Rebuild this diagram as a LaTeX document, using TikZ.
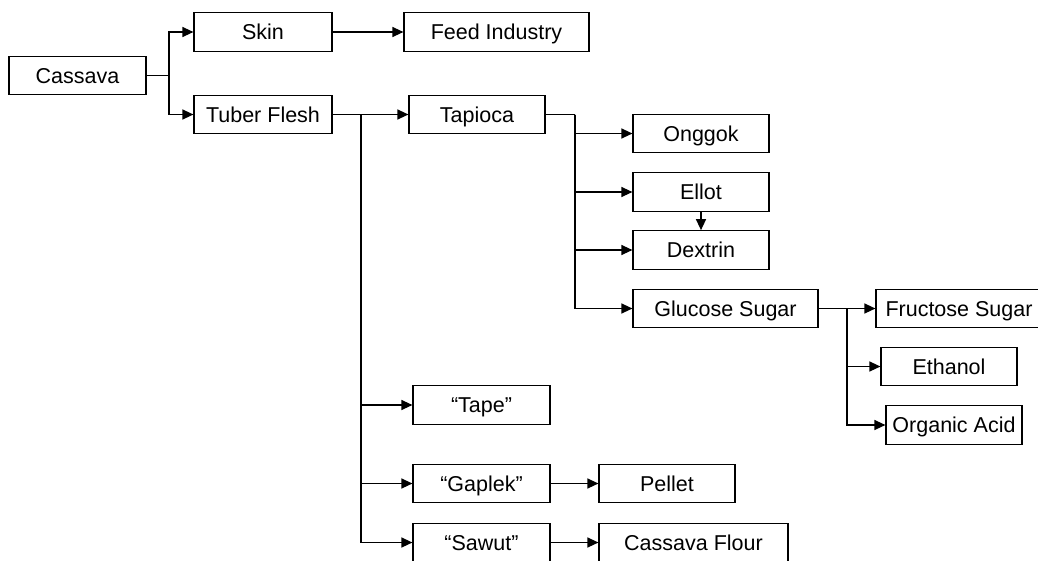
\documentclass[tikz,border=0pt]{standalone}
\usepackage{fontspec}
\setmainfont{Liberation Sans}
\usetikzlibrary{arrows.meta}
\begin{document}
\begin{tikzpicture}[x=1pt,y=-1pt,
  box/.style={draw, line width=1.2pt, rectangle, inner sep=0pt, minimum height=38.5pt, text height=17pt, text depth=2pt, font=\fontsize{21.5}{25}\selectfont},
  conn/.style={line width=1.3pt},
  arr/.style={line width=1.3pt, -{Triangle[length=11pt,width=10pt]}}]
\useasboundingbox (0,0) rectangle (1038,560);
% nodes
\node[box, minimum width=137pt] (cassava) at (77.5,75.5) {Cassava};
\node[box, minimum width=138pt] (skin) at (263,32) {Skin};
\node[box, minimum width=185pt] (feed) at (496.5,32) {Feed Industry};
\node[box, minimum width=138pt] (tuber) at (263,114.5) {Tuber Flesh};
\node[box, minimum width=136pt] (tapioca) at (477,114.5) {Tapioca};
\node[box, minimum width=136pt] (onggok) at (701,133.5) {Onggok};
\node[box, minimum width=136pt] (ellot) at (701,192) {Ellot};
\node[box, minimum width=136pt] (dextrin) at (701,250) {Dextrin};
\node[box, minimum width=185pt] (glucose) at (725.5,308.5) {Glucose Sugar};
\node[box, minimum width=166pt] (fructose) at (959,308.5) {Fructose Sugar};
\node[box, minimum width=136pt] (ethanol) at (949,366.5) {Ethanol};
\node[box, minimum width=136pt] (organic) at (954,425) {Organic Acid};
\node[box, minimum width=137pt] (tape) at (481.5,405) {“Tape”};
\node[box, minimum width=137pt] (gaplek) at (481.5,483.5) {“Gaplek”};
\node[box, minimum width=136pt] (pellet) at (667,483.5) {Pellet};
\node[box, minimum width=137pt] (sawut) at (481.5,542.5) {“Sawut”};
\node[box, minimum width=189pt] (flour) at (693.5,542.5) {Cassava Flour};
% junctions
\coordinate (j1) at (169,75.5);
\coordinate (j2) at (361,114.5);
\coordinate (j3) at (575,114.5);
\coordinate (j4) at (847,308.5);
% connectors
\draw[conn] (cassava.east) -- (j1);
\draw[arr] (j1) |- (skin.west);
\draw[arr] (j1) |- (tuber.west);
\draw[arr] (skin.east) -- (feed.west);
\draw[arr] (tuber.east) -- (tapioca.west);
\draw[arr] (j2) |- (tape.west);
\draw[arr] (j2) |- (gaplek.west);
\draw[arr] (j2) |- (sawut.west);
\draw[conn] (tapioca.east) -- (j3);
\draw[arr] (j3) |- (onggok.west);
\draw[arr] (j3) |- (ellot.west);
\draw[arr] (j3) |- (dextrin.west);
\draw[arr] (j3) |- (glucose.west);
\draw[arr] (ellot.south) -- (dextrin.north);
\draw[conn] (glucose.east) -- (j4);
\draw[arr] (j4) -- (fructose.west);
\draw[arr] (j4) |- (ethanol.west);
\draw[arr] (j4) |- (organic.west);
\draw[arr] (gaplek.east) -- (pellet.west);
\draw[arr] (sawut.east) -- (flour.west);
\end{tikzpicture}
\end{document}
